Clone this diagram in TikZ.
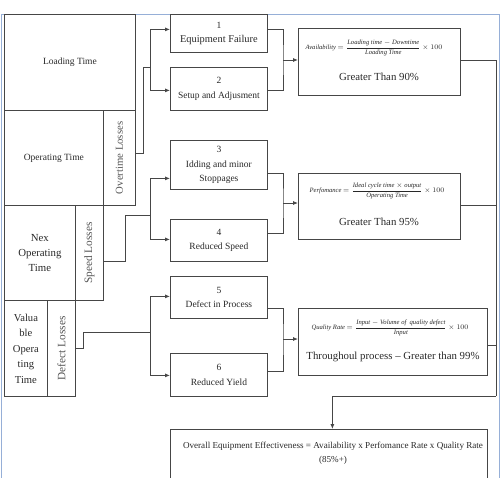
\documentclass[tikz,border=0pt]{standalone}
\usepackage{fontspec}
\setmainfont{Liberation Serif}
\usetikzlibrary{arrows.meta}
\definecolor{ln}{RGB}{70,70,70}
\definecolor{frm}{RGB}{150,175,215}
\definecolor{txt}{RGB}{40,40,40}
\definecolor{gtxt}{RGB}{85,85,85}
\begin{document}
\begin{tikzpicture}[x=1pt,y=-1pt,
  cell/.style={draw=ln,line width=0.8pt,inner sep=0pt,anchor=north west,align=center,text=txt},
  midbox/.style={cell,minimum width=97pt,font=\fontsize{9.5}{14.5}\selectfont},
  resbox/.style={cell},
  rot/.style={rotate=90,text=gtxt,inner sep=0pt},
  fml/.style={inner sep=0pt,text=txt,font=\fontsize{6.6}{8}\selectfont},
  big/.style={inner sep=0pt,text=txt,font=\fontsize{10.8}{13}\selectfont},
  line/.style={draw=ln,line width=0.8pt},
  arr/.style={line,-{Latex[length=5pt,width=4pt]}}]
\useasboundingbox (0,0) rectangle (502,477);
\clip (0,0) rectangle (502,477);
% frame
\draw[frm,line width=0.9pt] (1,480) -- (1,14) -- (499,14) -- (499,480);
% left block
\node[cell,minimum width=131pt,minimum height=96pt,font=\fontsize{9.5}{11}\selectfont] (load) at (4,14) {Loading Time};
\node[cell,minimum width=99pt,minimum height=95pt,font=\fontsize{9.5}{11}\selectfont] (op) at (4,110) {Operating Time};
\node[cell,minimum width=32pt,minimum height=95pt] (ot) at (103,110) {};
\node[rot,font=\fontsize{10.7}{12}\selectfont] (otl) at (ot.center) {Overtime Losses};
\node[cell,minimum width=71pt,minimum height=95pt,font=\fontsize{10.8}{15}\selectfont] (nex) at (4,205) {Nex\\Operating\\Time};
\node[cell,minimum width=28pt,minimum height=95pt] (sl) at (75,205) {};
\node[rot,font=\fontsize{11.3}{12}\selectfont] (sll) at (sl.center) {Speed Losses};
\node[cell,minimum width=43pt,minimum height=96pt,font=\fontsize{10.6}{15.5}\selectfont] (val) at (4,300) {Valua\\ble\\Opera\\ting\\Time};
\node[cell,minimum width=28pt,minimum height=96pt] (dl) at (47,300) {};
\node[rot,font=\fontsize{11.3}{12}\selectfont] (dll) at (dl.center) {Defect Losses};
% middle boxes
\node[midbox,minimum height=38pt] (b1) at (170,14) {1\\\fontsize{10.4}{16}\selectfont Equipment Failure};
\node[midbox,minimum height=43pt] (b2) at (170,67) {2\\Setup and Adjusment};
\node[midbox,minimum height=49pt] (b3) at (170,140) {3\\Idding and minor\\Stoppages};
\node[midbox,minimum height=42pt] (b4) at (170,219) {4\\Reduced Speed};
\node[midbox,minimum height=42pt] (b5) at (170,276) {5\\Defect in Process};
\node[midbox,minimum height=43pt] (b6) at (170,353) {6\\Reduced Yield};
% result boxes
\node[resbox,minimum width=162pt,minimum height=67pt] (A) at (298,28) {};
\node[fml] (fa) at (374,48) {\textit{Availability} $= {\displaystyle\frac{\textit{Loading time} - \textit{Downtime}}{\textit{Loading Time}}}\times 100$};
\node[big] (ga) at (379,77) {Greater Than 90\%};
\node[resbox,minimum width=162pt,minimum height=66pt] (B) at (298,173) {};
\node[fml] (fb) at (377,191) {\textit{Perfomance} $= {\displaystyle\frac{\textit{Ideal cycle time} \times \textit{output}}{\textit{Operating Time}}}\times 100$};
\node[big] (gb) at (379,222) {Greater Than 95\%};
\node[resbox,minimum width=189pt,minimum height=67pt] (C) at (298,308) {};
\node[fml] (fc) at (390,328) {\textit{Quality Rate} $= {\displaystyle\frac{\textit{Input} - \textit{Volume of\ \ quality defect}}{\textit{Input}}}\times 100$};
\node[big] (gc) at (393,357) {Throughoul process -- Greater than 99\%};
% OEE
\node[resbox,minimum width=317pt,minimum height=54pt] (oee) at (170,429) {};
\node[inner sep=0pt,align=center,text=txt,font=\fontsize{9.1}{14}\selectfont] (oeet) at (333,453) {Overall Equipment Effectiveness = Availability x Perfomance Rate x Quality Rate\\(85\%+)};
% junctions
\coordinate (j1) at (150,67);
\coordinate (j2) at (150,215);
\coordinate (j3) at (150,332);
\coordinate (k1) at (283,60);
\coordinate (k2) at (283,203);
\coordinate (k3) at (283,339);
\coordinate (r0) at (496,396);
% left connectors
\draw[line] ([yshift=4.5pt]ot.east) -- ++(8,0) |- (j1);
\draw[arr] (j1) |- ([yshift=4pt]b1.west);
\draw[arr] (j1) |- ([yshift=-1.5pt]b2.west);
\draw[line] ([yshift=-8.5pt]sl.east) -- ++(22,0) |- (j2);
\draw[arr] (j2) |- ([yshift=-13.5pt]b3.west);
\draw[arr] (j2) |- ([yshift=1pt]b4.west);
\draw[line] (dl.east) -- ++(8,0) |- (j3);
\draw[arr] (j3) |- ([yshift=1pt]b5.west);
\draw[arr] (j3) |- ([yshift=-0.5pt]b6.west);
% right connectors
\draw[line] ([yshift=4pt]b1.east) -| (k1) |- ([yshift=-1.5pt]b2.east);
\draw[arr] (k1) -- (k1 -| A.west);
\draw[line] ([yshift=-8.5pt]b3.east) -| (k2) |- ([yshift=7pt]b4.east);
\draw[arr] (k2) -- (k2 -| B.west);
\draw[line] ([yshift=-11pt]b5.east) -| (k3) |- ([yshift=3.5pt]b6.east);
\draw[arr] (k3) -- (k3 -| C.west);
% to OEE
\draw[line] ([yshift=1.5pt]A.east) -| (r0);
\draw[line] ([yshift=1pt]B.east) -- ([yshift=1pt]B.east -| r0);
\draw[line] ([yshift=-3.5pt]C.east) -- ([yshift=-3.5pt]C.east -| r0);
\draw[arr] (r0) -| ([xshift=3.5pt]oee.north);
\end{tikzpicture}
\end{document}
